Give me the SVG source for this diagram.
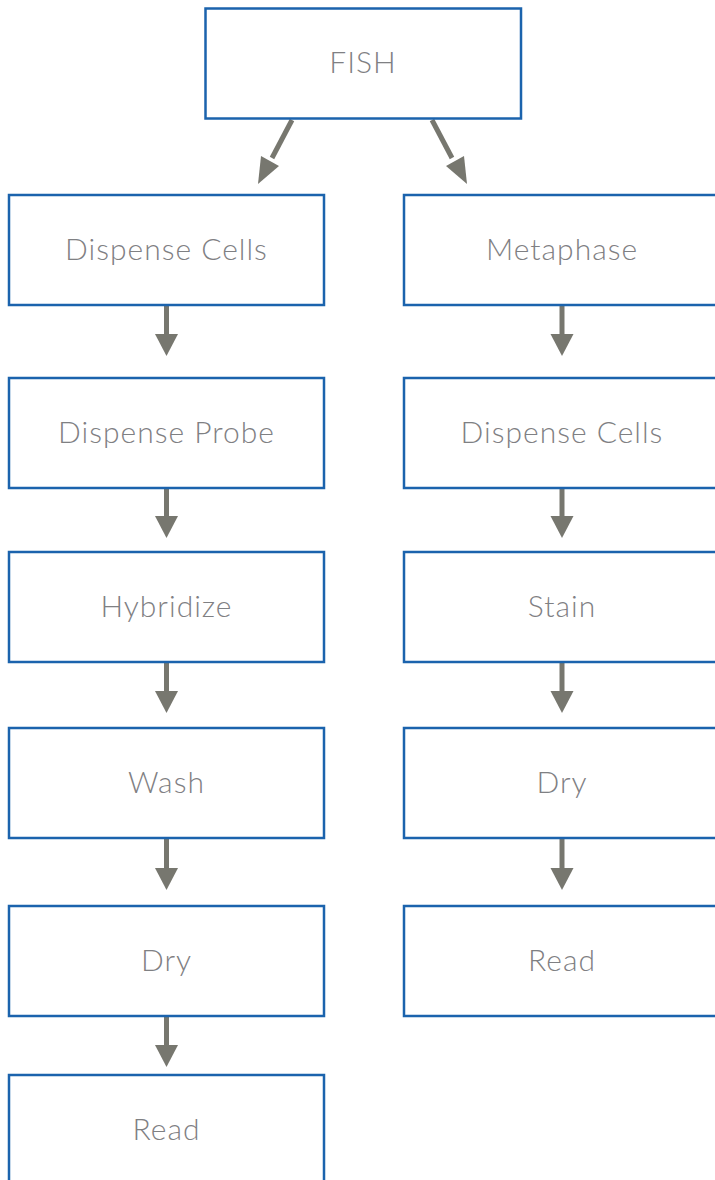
<svg xmlns="http://www.w3.org/2000/svg" width="715" height="1180" viewBox="0 0 715 1180">
  <style>
    .box { fill: #ffffff; stroke: #1b63ad; stroke-width: 2.5; }
    .lbl { font-family: "Lato", "Liberation Sans", sans-serif; font-weight: 300; font-size: 30px; letter-spacing: 1px; fill: #7f8083; text-anchor: middle; }
    .shaft { stroke: #77776f; stroke-width: 5; fill: none; }
    .head { fill: #77776f; }
  </style>
  <rect width="715" height="1180" fill="#ffffff"/>

  <g id="connectors">
    <!-- FISH to the two branches -->
    <line class="shaft" x1="292" y1="120" x2="272" y2="158"/>
    <polygon class="head" points="258,184 261,156 279,166"/>
    <line class="shaft" x1="432" y1="120" x2="452" y2="158"/>
    <polygon class="head" points="467,184 446,166 464,156"/>
    <!-- left column -->
    <line class="shaft" x1="166.5" y1="306" x2="166.5" y2="336"/>
    <polygon class="head" points="155,334 178,334 166.5,356"/>
    <line class="shaft" x1="166.5" y1="489" x2="166.5" y2="518"/>
    <polygon class="head" points="155,516 178,516 166.5,538"/>
    <line class="shaft" x1="166.5" y1="663" x2="166.5" y2="693"/>
    <polygon class="head" points="155,691 178,691 166.5,713"/>
    <line class="shaft" x1="166.5" y1="839" x2="166.5" y2="870"/>
    <polygon class="head" points="155,868 178,868 166.5,890"/>
    <line class="shaft" x1="166.5" y1="1017" x2="166.5" y2="1047"/>
    <polygon class="head" points="155,1045 178,1045 166.5,1067"/>
    <!-- right column -->
    <line class="shaft" x1="562" y1="306" x2="562" y2="336"/>
    <polygon class="head" points="550.5,334 573.5,334 562,356"/>
    <line class="shaft" x1="562" y1="489" x2="562" y2="518"/>
    <polygon class="head" points="550.5,516 573.5,516 562,538"/>
    <line class="shaft" x1="562" y1="663" x2="562" y2="693"/>
    <polygon class="head" points="550.5,691 573.5,691 562,713"/>
    <line class="shaft" x1="562" y1="839" x2="562" y2="870"/>
    <polygon class="head" points="550.5,868 573.5,868 562,890"/>
  </g>

  <g id="fish"><rect class="box" x="205.5" y="8.5" width="315.5" height="110"/><text class="lbl" x="363" y="73">FISH</text></g>

  <g id="l-dispense-cells"><rect class="box" x="9" y="195" width="315" height="110"/><text class="lbl" x="166.5" y="260">Dispense Cells</text></g>
  <g id="l-dispense-probe"><rect class="box" x="9" y="378" width="315" height="110"/><text class="lbl" x="166.5" y="443">Dispense Probe</text></g>
  <g id="l-hybridize"><rect class="box" x="9" y="552" width="315" height="110"/><text class="lbl" x="166.5" y="617">Hybridize</text></g>
  <g id="l-wash"><rect class="box" x="9" y="728" width="315" height="110"/><text class="lbl" x="166.5" y="793">Wash</text></g>
  <g id="l-dry"><rect class="box" x="9" y="906" width="315" height="110"/><text class="lbl" x="166.5" y="971">Dry</text></g>
  <g id="l-read"><rect class="box" x="9" y="1075" width="315" height="110"/><text class="lbl" x="166.5" y="1140">Read</text></g>

  <g id="r-metaphase"><rect class="box" x="404" y="195" width="315" height="110"/><text class="lbl" x="562" y="260">Metaphase</text></g>
  <g id="r-dispense-cells"><rect class="box" x="404" y="378" width="315" height="110"/><text class="lbl" x="562" y="443">Dispense Cells</text></g>
  <g id="r-stain"><rect class="box" x="404" y="552" width="315" height="110"/><text class="lbl" x="562" y="617">Stain</text></g>
  <g id="r-dry"><rect class="box" x="404" y="728" width="315" height="110"/><text class="lbl" x="562" y="793">Dry</text></g>
  <g id="r-read"><rect class="box" x="404" y="906" width="315" height="110"/><text class="lbl" x="562" y="971">Read</text></g>
</svg>
